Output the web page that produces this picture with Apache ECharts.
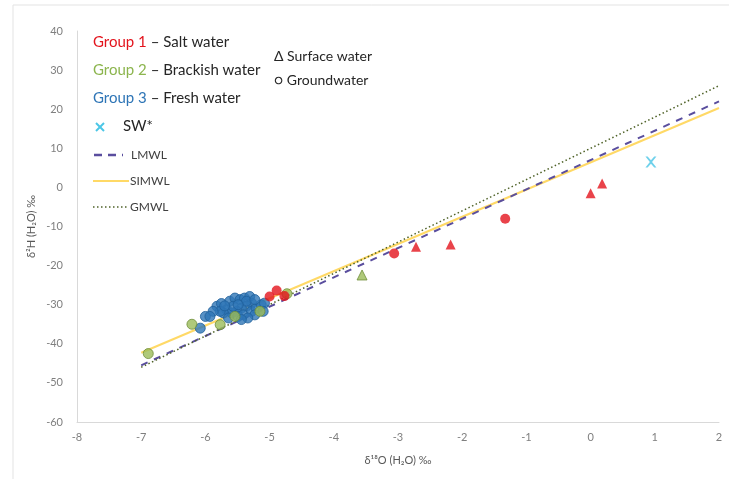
<!DOCTYPE html>
<html><head><meta charset="utf-8">
<script src="https://cdn.jsdelivr.net/npm/echarts@6/dist/echarts.min.js"></script>
<style>html,body{margin:0;padding:0;background:#fff}#c{width:729px;height:479px}</style>
</head><body><div id="c"></div>
<script>
// ---- data ----
const xTicks = [-8,-7,-6,-5,-4,-3,-2,-1,0,1,2];
const yTicks = [-60,-50,-40,-30,-20,-10,0,10,20,30,40];
const group1Ground = [[-3.06,-16.9],[-1.33,-8.0],[-4.89,-26.4],[-5.0,-27.9],[-4.77,-27.8]];
const group1Surface = [[-2.72,-15.2],[-2.18,-14.6],[0.0,-1.5],[0.18,1.0]];
const group2Ground = [[-6.89,-42.5],[-6.21,-35.0],[-5.77,-35.1],[-5.54,-33.0],[-5.15,-31.7],[-4.73,-27.2]];
const group2Surface = [[-3.56,-22.4]];
const group3Ground = [[-6.00,-33.0],[-6.08,-36.0],[-5.82,-30.4],[-5.75,-29.7],[-5.67,-31.3],[-5.62,-29.1],[-5.54,-28.3],[-5.46,-28.7],[-5.39,-28.3],[-5.31,-27.9],[-5.28,-29.6],[-5.36,-30.4],[-5.44,-30.9],[-5.51,-31.7],[-5.59,-32.1],[-5.72,-32.1],[-5.77,-31.7],[-5.64,-33.4],[-5.49,-33.0],[-5.41,-32.6],[-5.28,-31.7],[-5.21,-30.9],[-5.13,-30.0],[-5.08,-29.6],[-5.23,-32.6],[-5.34,-33.4],[-5.44,-33.8],[-5.57,-30.4],[-5.70,-30.3],[-5.88,-31.7],[-5.93,-33.0],[-5.10,-31.7],[-5.36,-29.1],[-5.23,-28.7],[-5.49,-30.0]];
const seawater = [[0.94,6.5]];
const lmwl = [[-7,-45.5],[2,22]];
const simwl = [[-7,-42.3],[2,20.3]];
const gmwl = [[-7,-46],[2,26]];

const RED='#e3141d', GREEN='#9bbb59', BLUE='#2e75b6', CYAN='#4bc6e6';
const FONT='Lato';
const CROSS='path://M0,0 L2,0 L5,3.5 L8,0 L10,0 L6,5 L10,10 L8,10 L5,6.5 L2,10 L0,10 L4,5 Z';
const chart = echarts.init(document.getElementById('c'));
const L = 93;
function txt(x,y,text,size,fill,rich){return {type:'text',x:x,y:y,z:100,style:{text:text,fontFamily:FONT,fontSize:size,fill:fill,rich:rich||{}}};}
chart.setOption({
  animation:false,
  grid:{left:77,right:10,top:31,bottom:57},
  xAxis:{type:'value',min:xTicks[0],max:xTicks[xTicks.length-1],interval:1,
    name:'δ¹⁸O (H₂O) ‰',nameLocation:'middle',nameGap:33,
    nameTextStyle:{color:'#595959',fontSize:11,fontFamily:FONT},
    axisLine:{show:true,onZero:false,lineStyle:{color:'#d9d9d9'}},axisTick:{show:false},
    splitLine:{show:false},axisLabel:{color:'#7f7f7f',fontSize:11,fontFamily:FONT,margin:10}},
  yAxis:{type:'value',min:yTicks[0],max:yTicks[yTicks.length-1],interval:10,
    name:'δ²H (H₂O) ‰',nameLocation:'middle',nameGap:40,nameRotate:90,nameMoveOverlap:false,
    nameTextStyle:{color:'#595959',fontSize:11,fontFamily:FONT},
    axisLine:{show:true,onZero:false,lineStyle:{color:'#d9d9d9'}},axisTick:{show:false},
    splitLine:{show:false},axisLabel:{color:'#7f7f7f',fontSize:11,fontFamily:FONT,margin:14}},
  series:[
    {type:'line',data:simwl,symbol:'none',z:1,lineStyle:{color:'#ffd966',width:2}},
    {type:'line',data:lmwl,symbol:'none',z:2,lineStyle:{color:'#5a4e9e',width:2,type:[7,7]}},
    {type:'line',data:gmwl,symbol:'none',z:2,lineStyle:{color:'#4f6228',width:1.5,type:[1.5,2.5]}},
    {type:'scatter',data:group3Ground,symbol:'circle',symbolSize:10,z:5,itemStyle:{color:BLUE,borderColor:'#1f5f9a',borderWidth:1}},
    {type:'scatter',data:group2Ground,symbol:'circle',symbolSize:10,z:6,itemStyle:{color:GREEN,borderColor:'#6f8f3a',borderWidth:1}},
    {type:'scatter',data:group2Surface,symbol:'triangle',symbolSize:10,z:6,itemStyle:{color:GREEN,borderColor:'#6f8f3a',borderWidth:1}},
    {type:'scatter',data:group1Ground,symbol:'circle',symbolSize:10,z:7,itemStyle:{color:RED}},
    {type:'scatter',data:group1Surface,symbol:'triangle',symbolSize:10,z:7,itemStyle:{color:RED}},
    {type:'scatter',data:seawater,z:7,symbol:CROSS,symbolSize:11,itemStyle:{color:CYAN}}
  ],
  graphic:[
    {type:'rect',shape:{x:13,y:5,width:730,height:490},style:{fill:'none',stroke:'#e3e3e3',lineWidth:1},silent:true},
    txt(L,35,'{r|Group 1} – Salt water',15,'#262626',{r:{fill:RED,fontFamily:FONT,fontSize:15}}),
    txt(L,63,'{g|Group 2} – Brackish water',15,'#262626',{g:{fill:'#8cb54e',fontFamily:FONT,fontSize:15}}),
    txt(L,91,'{b|Group 3} – Fresh water',15,'#262626',{b:{fill:BLUE,fontFamily:FONT,fontSize:15}}),
    txt(274,49,'Δ Surface water',14,'#262626'),
    txt(274,73,'○ Groundwater',14,'#262626'),
    {type:'line',shape:{x1:96,y1:123,x2:104,y2:131},z:100,style:{stroke:CYAN,lineWidth:2}},
    {type:'line',shape:{x1:104,y1:123,x2:96,y2:131},z:100,style:{stroke:CYAN,lineWidth:2}},
    txt(123,119,'SW*',15,'#262626'),
    {type:'line',shape:{x1:94,y1:155,x2:123,y2:155},z:100,style:{stroke:'#5a4e9e',lineWidth:2.5,lineDash:[8,6]}},
    txt(131,149,'LMWL',12,'#404040'),
    {type:'line',shape:{x1:93,y1:181,x2:129,y2:181},z:100,style:{stroke:'#ffd966',lineWidth:2}},
    txt(130,175,'SIMWL',12,'#404040'),
    {type:'line',shape:{x1:93,y1:207,x2:129,y2:207},z:100,style:{stroke:'#4f6228',lineWidth:1.5,lineDash:[1.5,2.5]}},
    txt(130,201,'GMWL',12,'#404040')
  ]
});
</script></body></html>
